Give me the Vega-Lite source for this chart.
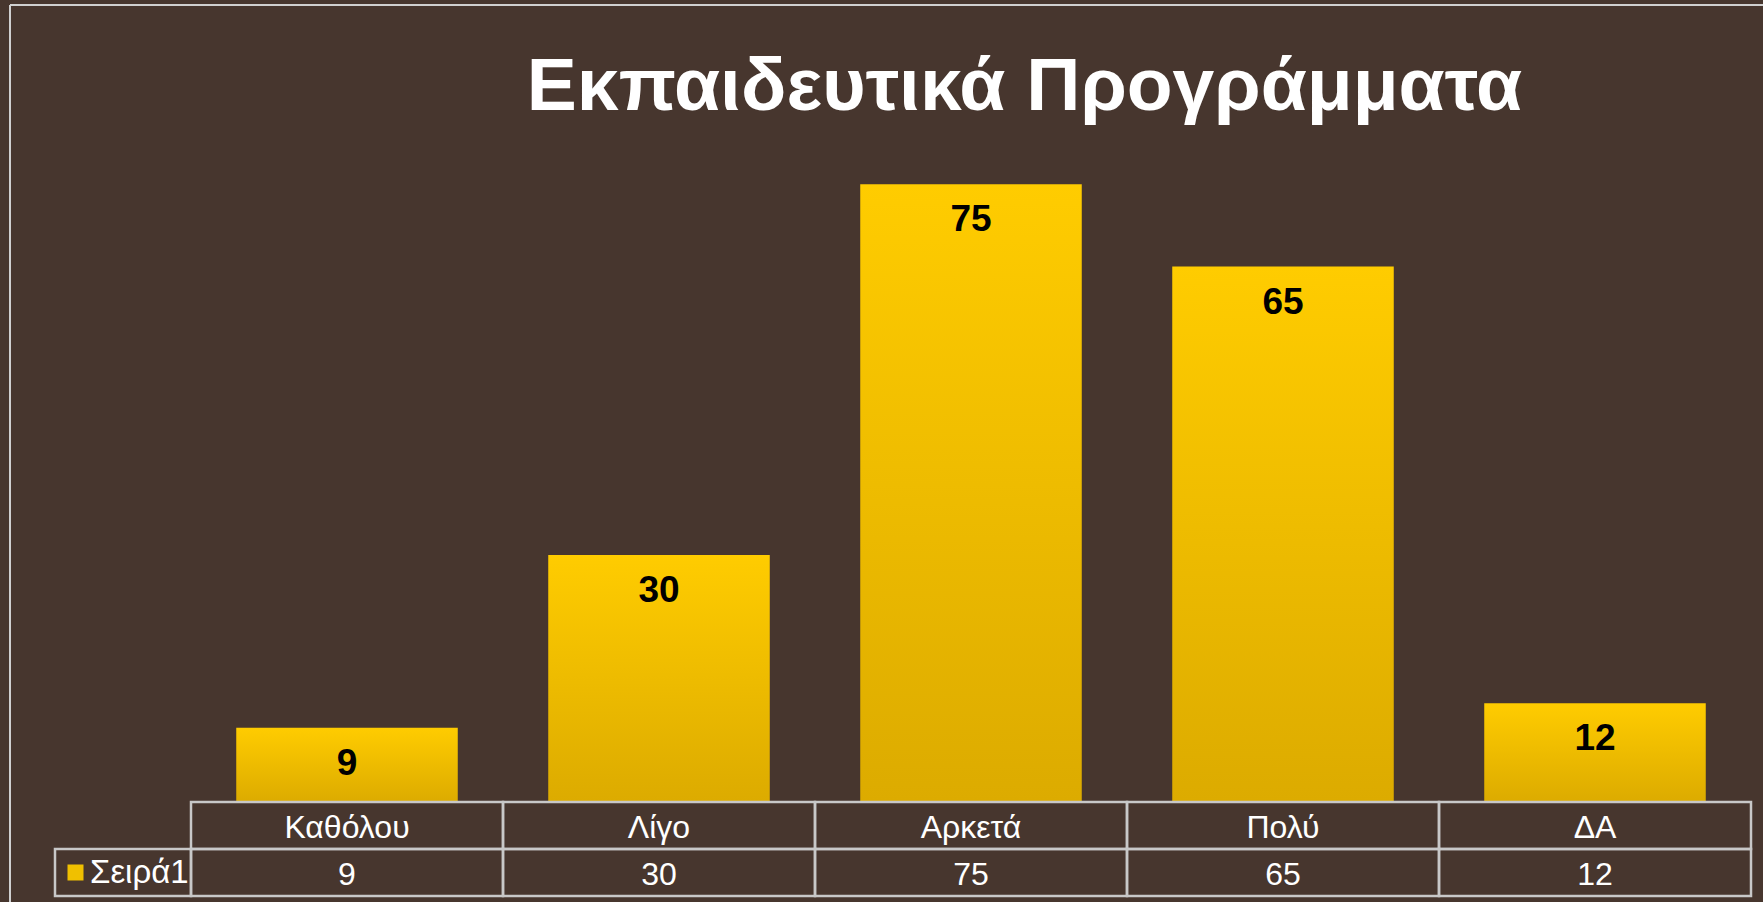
{
  "$schema": "https://vega.github.io/schema/vega-lite/v6.json",
  "width": 1753,
  "height": 897,
  "autosize": {"type": "none"},
  "padding": {"left": 10, "top": 5, "right": 0, "bottom": 0},
  "background": "#47362e",
  "title": {
    "text": "Εκπαιδευτικά Προγράμματα",
    "anchor": "middle",
    "frame": "group",
    "dx": 138,
    "offset": -180,
    "baseline": "alphabetic",
    "fontSize": 75,
    "font": "Liberation Sans",
    "fontWeight": "bold",
    "color": "#ffffff"
  },
  "config": {
    "view": {"stroke": "#d0d0d0", "strokeWidth": 2, "strokeDash": [1753, 2650, 897, 0]},
    "text": {"font": "Liberation Sans"}
  },
  "data": {
    "values": [
      {"category": "Καθόλου", "value": 9, "series": "Σειρά1"},
      {"category": "Λίγο", "value": 30, "series": "Σειρά1"},
      {"category": "Αρκετά", "value": 75, "series": "Σειρά1"},
      {"category": "Πολύ", "value": 65, "series": "Σειρά1"},
      {"category": "ΔΑ", "value": 12, "series": "Σειρά1"}
    ]
  },
  "layer": [
    {
      "layer": [
        {
          "mark": {
            "type": "bar",
            "width": {"band": 0.71},
            "color": {"gradient": "linear", "x1": 0, "y1": 0, "x2": 0, "y2": 1, "stops": [{"offset": 0, "color": "#ffcc00"}, {"offset": 1, "color": "#dcab00"}]}
          },
          "encoding": {
            "x": {"field": "category", "type": "nominal", "sort": null, "scale": {"domain": ["Καθόλου", "Λίγο", "Αρκετά", "Πολύ", "ΔΑ"], "range": [181, 1741], "paddingInner": 0, "paddingOuter": 0}, "axis": null},
            "y": {"field": "value", "type": "quantitative", "scale": {"domain": [0, 80], "range": [797, 138], "nice": false, "zero": true}, "axis": null}
          }
        },
        {
          "mark": {"type": "text", "dy": 47, "baseline": "alphabetic", "align": "center", "fontSize": 37, "fontWeight": "bold", "color": "#000000", "font": "Liberation Sans"},
          "encoding": {
            "x": {"field": "category", "type": "nominal", "sort": null, "scale": {"domain": ["Καθόλου", "Λίγο", "Αρκετά", "Πολύ", "ΔΑ"], "range": [181, 1741], "paddingInner": 0, "paddingOuter": 0}, "axis": null},
            "y": {"field": "value", "type": "quantitative", "scale": {"domain": [0, 80], "range": [797, 138], "nice": false, "zero": true}, "axis": null},
            "text": {"field": "value", "type": "quantitative"}
          }
        }
      ]
    },
    {
      "layer": [
        {
          "mark": {"type": "rect", "fillOpacity": 0, "stroke": "#c8c8c8", "strokeWidth": 2.5},
          "encoding": {
            "x": {"field": "category", "type": "nominal", "sort": null, "scale": {"domain": ["Καθόλου", "Λίγο", "Αρκετά", "Πολύ", "ΔΑ"], "range": [181, 1741], "paddingInner": 0, "paddingOuter": 0}, "axis": null},
            "y": {"datum": "header", "type": "nominal", "scale": {"domain": ["header", "value"], "range": [797, 891], "paddingInner": 0, "paddingOuter": 0}, "axis": null}
          }
        },
        {
          "mark": {"type": "rect", "fillOpacity": 0, "stroke": "#c8c8c8", "strokeWidth": 2.5},
          "encoding": {
            "x": {"field": "category", "type": "nominal", "sort": null, "scale": {"domain": ["Καθόλου", "Λίγο", "Αρκετά", "Πολύ", "ΔΑ"], "range": [181, 1741], "paddingInner": 0, "paddingOuter": 0}, "axis": null},
            "y": {"datum": "value", "type": "nominal", "scale": {"domain": ["header", "value"], "range": [797, 891], "paddingInner": 0, "paddingOuter": 0}, "axis": null}
          }
        },
        {
          "mark": {"type": "text", "dy": 12, "baseline": "alphabetic", "align": "center", "fontSize": 32, "color": "#ffffff", "font": "Liberation Sans"},
          "encoding": {
            "x": {"field": "category", "type": "nominal", "sort": null, "scale": {"domain": ["Καθόλου", "Λίγο", "Αρκετά", "Πολύ", "ΔΑ"], "range": [181, 1741], "paddingInner": 0, "paddingOuter": 0}, "axis": null},
            "y": {"datum": "header", "type": "nominal", "scale": {"domain": ["header", "value"], "range": [797, 891], "paddingInner": 0, "paddingOuter": 0}, "axis": null},
            "text": {"field": "category", "type": "nominal"}
          }
        },
        {
          "mark": {"type": "text", "dy": 12, "baseline": "alphabetic", "align": "center", "fontSize": 32, "color": "#ffffff", "font": "Liberation Sans"},
          "encoding": {
            "x": {"field": "category", "type": "nominal", "sort": null, "scale": {"domain": ["Καθόλου", "Λίγο", "Αρκετά", "Πολύ", "ΔΑ"], "range": [181, 1741], "paddingInner": 0, "paddingOuter": 0}, "axis": null},
            "y": {"datum": "value", "type": "nominal", "scale": {"domain": ["header", "value"], "range": [797, 891], "paddingInner": 0, "paddingOuter": 0}, "axis": null},
            "text": {"field": "value", "type": "quantitative"}
          }
        }
      ]
    },
    {
      "data": {"values": [{"series": "Σειρά1"}]},
      "mark": {"type": "rect", "fillOpacity": 0, "stroke": "#c8c8c8", "strokeWidth": 2.5},
      "encoding": {
        "x": {"field": "series", "type": "nominal", "scale": {"range": [45, 181], "paddingInner": 0, "paddingOuter": 0}, "axis": null},
        "y": {"datum": "value", "type": "nominal", "scale": {"domain": ["header", "value"], "range": [797, 891], "paddingInner": 0, "paddingOuter": 0}, "axis": null},
        "color": {
          "field": "series",
          "type": "nominal",
          "scale": {"range": ["#f0c000"]},
          "legend": {
            "orient": "none",
            "legendX": 49,
            "legendY": 851,
            "title": null,
            "padding": 0,
            "symbolType": "square",
            "symbolSize": 256,
            "symbolStrokeWidth": 0,
            "symbolOpacity": 1,
            "labelFontSize": 33,
            "labelFont": "Liberation Sans",
            "labelColor": "#ffffff",
            "labelOffset": -2,
            "encode": {
              "symbols": {
                "update": {
                  "fill": {"value": {"gradient": "linear", "x1": 0, "y1": 0, "x2": 0, "y2": 1, "stops": [{"offset": 0, "color": "#ffcc00"}, {"offset": 1, "color": "#dcab00"}]}},
                  "opacity": {"value": 1},
                  "fillOpacity": {"value": 1}
                }
              }
            }
          }
        }
      }
    }
  ],
  "resolve": {"scale": {"x": "independent", "y": "independent"}}
}
